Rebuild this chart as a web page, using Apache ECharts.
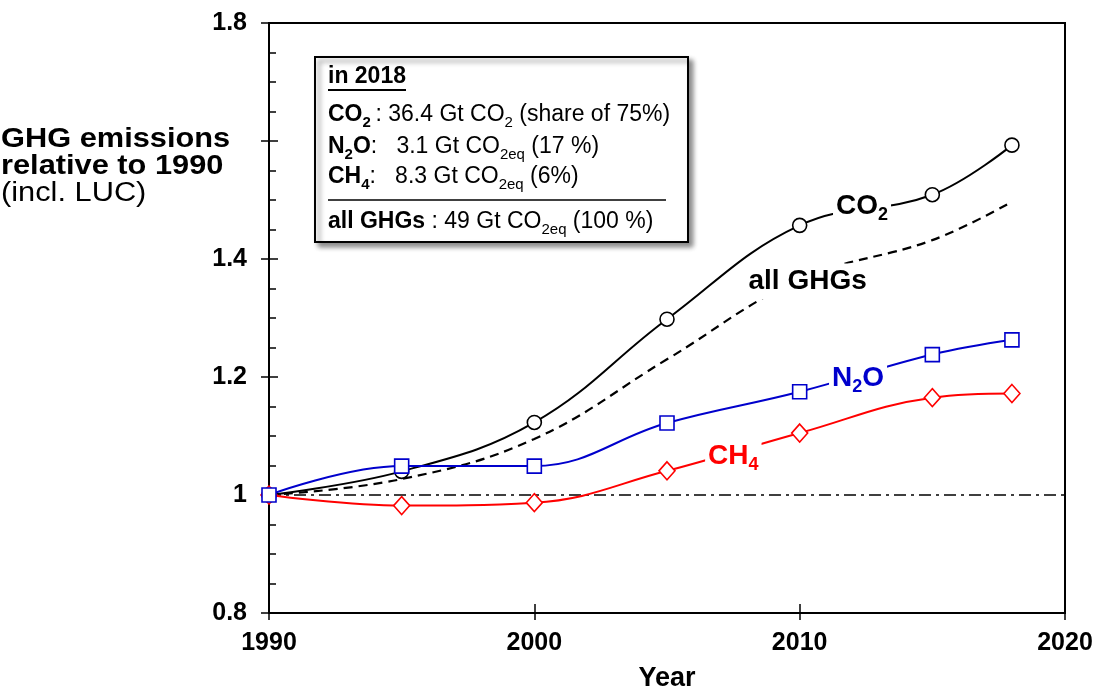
<!DOCTYPE html>
<html><head><meta charset="utf-8">
<script src="https://cdn.jsdelivr.net/npm/echarts@6/dist/echarts.min.js"></script>
<style>html,body{margin:0;padding:0;background:#fff}#c{width:1097px;height:697px}</style>
</head><body><div id="c"></div>
<script>
// ---- data ----
const years = [1990, 1995, 2000, 2005, 2010, 2015, 2018];
const co2 = [1.0, 1.04, 1.123, 1.298, 1.457, 1.509, 1.593];
const n2o = [1.0, 1.049, 1.049, 1.122, 1.175, 1.238, 1.263];
const ch4 = [1.0, 0.982, 0.987, 1.041, 1.105, 1.165, 1.172];
const allGhg = [1.0, 1.027, 1.095, 1.23, 1.365, 1.432, 1.497];
const refYears = [1990, 2020];
const refValue = 1;
const yTickValues = [0.8, 1.0, 1.2, 1.4, 1.6, 1.8];
const yTickLabels = ['0.8', '1', '1.2', '1.4', '', '1.8'];

const F = '"Liberation Sans", Arial, Helvetica, sans-serif';
const BLUE = '#0000CC', RED = '#FF0000';

function pairs(xs, ys) { return xs.map((x, i) => [x, ys[i]]); }

function lineLabel(coord, rich, text) {
  return {
    silent: true,
    symbol: 'rect', symbolSize: 0,
    data: [{ coord: coord }],
    label: {
      show: true, position: 'inside', formatter: text,
      backgroundColor: '#fff', padding: [0, 3, 0, 3],
      rich: rich
    }
  };
}
function labelRich(color) {
  return {
    m: { fontFamily: F, fontSize: 28, fontWeight: 'bold', color: color, lineHeight: 36, verticalAlign: 'middle' },
    s: { fontFamily: F, fontSize: 18, fontWeight: 'bold', color: color, lineHeight: 18, verticalAlign: 'bottom' }
  };
}

const boxRich = {
  b: { fontFamily: F, fontSize: 23, fontWeight: 'bold', fill: '#000', lineHeight: 30, verticalAlign: 'middle' },
  n: { fontFamily: F, fontSize: 23, fontWeight: 'normal', fill: '#000', lineHeight: 30, verticalAlign: 'middle' },
  bs: { fontFamily: F, fontSize: 15, fontWeight: 'bold', fill: '#000', lineHeight: 15, verticalAlign: 'bottom' },
  ns: { fontFamily: F, fontSize: 15, fontWeight: 'normal', fill: '#000', lineHeight: 15, verticalAlign: 'bottom' }
};
function boxText(y, text) {
  return { type: 'text', x: 328, y: y, z: 101, style: { text: text, rich: boxRich, verticalAlign: 'middle', align: 'left' } };
}
function titleText(y, text, weight) {
  return { type: 'text', x: 1, y: y, z: 100, scaleX: 1.14,
    style: { text: text, font: weight + ' 27px ' + F, fill: '#000', verticalAlign: 'middle' } };
}

const chart = echarts.init(document.getElementById('c'), null, { renderer: 'canvas' });
chart.setOption({
  animation: false,
  backgroundColor: '#fff',
  grid: { left: 269, right: 32, top: 23, bottom: 80, show: true, borderColor: '#000', borderWidth: 2, backgroundColor: 'transparent' },
  xAxis: [{
    type: 'value', min: 1990, max: 2020, interval: 10,
    axisLine: { show: true, onZero: false, lineStyle: { color: '#000', width: 2 } },
    axisTick: { show: true, inside: true, length: 9, lineStyle: { color: '#000', width: 1.5 } },
    axisLabel: { fontFamily: F, fontSize: 25, fontWeight: 'bold', color: '#000', margin: 18, formatter: v => String(v) },
    splitLine: { show: false },
    name: 'Year', nameLocation: 'middle', nameGap: 52,
    nameTextStyle: { fontFamily: F, fontSize: 27, fontWeight: 'bold', color: '#000' }
  }, {
    type: 'value', min: 1990, max: 2020, interval: 10, position: 'bottom',
    axisLine: { show: false, onZero: false },
    axisTick: { show: true, inside: false, length: 7, lineStyle: { color: '#000', width: 1.5 } },
    axisLabel: { show: false }, splitLine: { show: false }
  }],
  yAxis: [{
    type: 'value', min: 0.8, max: 1.8, interval: 0.2,
    axisLine: { show: true, onZero: false, lineStyle: { color: '#000', width: 2 } },
    axisTick: { show: true, inside: true, length: 9, lineStyle: { color: '#000', width: 1.5 } },
    minorTick: { show: true, splitNumber: 4, length: 7, lineStyle: { color: '#000', width: 1.5 } },
    axisLabel: {
      fontFamily: F, fontSize: 25, fontWeight: 'bold', color: '#000', margin: 22,
      formatter: v => { const i = yTickValues.findIndex(t => Math.abs(t - v) < 1e-6); return i >= 0 ? yTickLabels[i] : ''; }
    },
    splitLine: { show: false }
  }, {
    type: 'value', min: 0.8, max: 1.8, interval: 0.2, position: 'left',
    axisLine: { show: false, onZero: false },
    axisTick: { show: true, inside: false, length: 8, lineStyle: { color: '#000', width: 1.5 } },
    axisLabel: { show: false }, splitLine: { show: false }
  }],
  graphic: [
    titleText(140, 'GHG emissions', 'bold'),
    titleText(167, 'relative to 1990', 'bold'),
    titleText(194, '(incl. LUC)', 'normal'),
    { type: 'rect', z: 100, shape: { x: 315, y: 57, width: 373, height: 185 },
      style: { fill: '#fff', stroke: '#000', lineWidth: 2, shadowBlur: 5, shadowOffsetX: 4, shadowOffsetY: 4, shadowColor: 'rgba(0,0,0,0.45)' } },
    boxText(77, '{b|in 2018}'),
    { type: 'line', z: 101, shape: { x1: 328, y1: 90, x2: 406, y2: 90 }, style: { stroke: '#000', lineWidth: 2 } },
    boxText(115, '{b|CO}{bs|2}{n|\u2009: 36.4 Gt CO}{ns|2}{n| (share of 75%)}'),
    boxText(147, '{b|N}{bs|2}{b|O}{n|:   3.1 Gt CO}{ns|2eq}{n| (17 %)}'),
    boxText(177, '{b|CH}{bs|4}{n|:   8.3 Gt CO}{ns|2eq}{n| (6%)}'),
    { type: 'line', z: 101, shape: { x1: 328, y1: 200, x2: 666, y2: 200 }, style: { stroke: '#000', lineWidth: 1.5 } },
    boxText(222, '{b|all GHGs}{n| : 49 Gt CO}{ns|2eq}{n| (100 %)}')
  ],
  series: [
    {
      name: 'ref', type: 'line', silent: true, data: refYears.map(x => [x, refValue]),
      symbol: 'none', lineStyle: { color: '#000', width: 1.5, type: [12, 5, 3, 5] }
    },
    {
      name: 'all GHGs', type: 'line', smooth: 0.4, data: pairs(years, allGhg),
      symbol: 'none', lineStyle: { color: '#000', width: 2.2, type: [9, 6] },
      markPoint: lineLabel([2010.3, 1.362], labelRich('#000'), '{m|all GHGs}')
    },
    {
      name: 'CO2', type: 'line', smooth: 0.4, data: pairs(years, co2),
      symbol: 'circle', symbolSize: 14, showAllSymbol: true,
      lineStyle: { color: '#000', width: 2 },
      itemStyle: { color: '#fff', borderColor: '#000', borderWidth: 1.6 },
      markPoint: lineLabel([2012.35, 1.49], labelRich('#000'), '{m|CO}{s|2}')
    },
    {
      name: 'CH4', type: 'line', smooth: 0.4, data: pairs(years, ch4),
      symbol: 'diamond', symbolSize: [16, 18], showAllSymbol: true,
      lineStyle: { color: RED, width: 2 },
      itemStyle: { color: '#fff', borderColor: RED, borderWidth: 1.6 },
      markPoint: lineLabel([2007.5, 1.066], labelRich(RED), '{m|CH}{s|4}')
    },
    {
      name: 'N2O', type: 'line', smooth: 0.4, data: pairs(years, n2o),
      symbol: 'rect', symbolSize: 14, showAllSymbol: true,
      lineStyle: { color: BLUE, width: 2 },
      itemStyle: { color: '#fff', borderColor: BLUE, borderWidth: 1.6 },
      markPoint: lineLabel([2012.2, 1.198], labelRich(BLUE), '{m|N}{s|2}{m|O}')
    }
  ]
});
</script>
</body></html>
